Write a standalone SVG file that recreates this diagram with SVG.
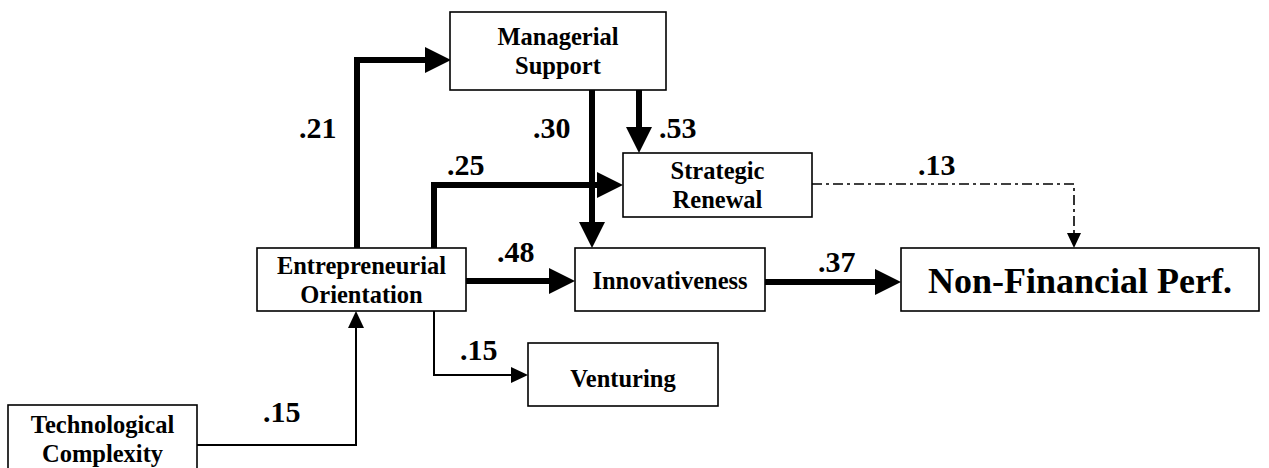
<svg xmlns="http://www.w3.org/2000/svg" width="1269" height="468" viewBox="0 0 1269 468">
<style>
.box{fill:#fff;stroke:#000;stroke-width:1.6}
.nt{font-family:"Liberation Serif","Times New Roman",serif;font-weight:bold;font-size:24.5px;text-anchor:middle;fill:#000}
.big{font-size:36px}
.lbl{font-family:"Liberation Serif","Times New Roman",serif;font-weight:bold;font-size:30px;fill:#000}
.thick{fill:none;stroke:#000;stroke-width:6}
.thin{fill:none;stroke:#000;stroke-width:2}
.dd{fill:none;stroke:#000;stroke-width:1.6;stroke-dasharray:10 4 3 4}
</style>
<defs>
<marker id="aT" markerUnits="userSpaceOnUse" markerWidth="28" markerHeight="28" refX="0" refY="13" orient="auto" overflow="visible"><path d="M0,0 L26,13 L0,26 z" fill="#000"/></marker>
<marker id="aS" markerUnits="userSpaceOnUse" markerWidth="18" markerHeight="18" refX="0" refY="8" orient="auto" overflow="visible"><path d="M0,0 L17,8 L0,16 z" fill="#000"/></marker>
</defs>
<g id="connectors">
<path class="thin" d="M197,445 H356 V328" marker-end="url(#aS)"/>
<path class="thick" d="M357,248 V60 H425" marker-end="url(#aT)"/>
<path class="thick" d="M434,248 V185 H597" marker-end="url(#aT)"/>
<path class="thick" d="M592,90 V222" marker-end="url(#aT)"/>
<path class="thick" d="M639,90 V127" marker-end="url(#aT)"/>
<path class="thick" d="M466,281 H549" marker-end="url(#aT)"/>
<path class="thick" d="M765,282 H875" marker-end="url(#aT)"/>
<path class="thin" d="M434,311 V375 H511" marker-end="url(#aS)"/>
<path class="dd" d="M812,184 H1074 V233"/>
<path d="M1067,233 L1081,233 L1074,248 z" fill="#000"/>
</g>
<g id="labels">
<text class="lbl" x="263" y="422">.15</text>
<text class="lbl" x="299" y="138">.21</text>
<text class="lbl" x="533" y="138">.30</text>
<text class="lbl" x="659" y="138">.53</text>
<text class="lbl" x="447" y="175">.25</text>
<text class="lbl" x="918" y="175">.13</text>
<text class="lbl" x="497" y="262">.48</text>
<text class="lbl" x="818" y="272">.37</text>
<text class="lbl" x="460" y="360">.15</text>
</g>
<g id="managerial-support">
<rect class="box" x="450" y="12" width="216" height="78"/>
<text class="nt" x="558" y="45">Managerial</text>
<text class="nt" x="558" y="74">Support</text>
</g>
<g id="strategic-renewal">
<rect class="box" x="623" y="153" width="189" height="64"/>
<text class="nt" x="717.5" y="179">Strategic</text>
<text class="nt" x="717.5" y="208">Renewal</text>
</g>
<g id="entrepreneurial-orientation">
<rect class="box" x="257" y="248" width="209" height="63"/>
<text class="nt" x="361.5" y="274">Entrepreneurial</text>
<text class="nt" x="361.5" y="303">Orientation</text>
</g>
<g id="innovativeness">
<rect class="box" x="575" y="248" width="190" height="63"/>
<text class="nt" x="670" y="289">Innovativeness</text>
</g>
<g id="non-financial-perf">
<rect class="box" x="901" y="248" width="358" height="63"/>
<text class="nt big" x="1080" y="293">Non-Financial Perf.</text>
</g>
<g id="venturing">
<rect class="box" x="528" y="343" width="190" height="63"/>
<text class="nt" x="623" y="387">Venturing</text>
</g>
<g id="technological-complexity">
<rect class="box" x="8" y="405" width="189" height="80"/>
<text class="nt" x="102.5" y="433">Technological</text>
<text class="nt" x="102.5" y="462">Complexity</text>
</g>
</svg>
